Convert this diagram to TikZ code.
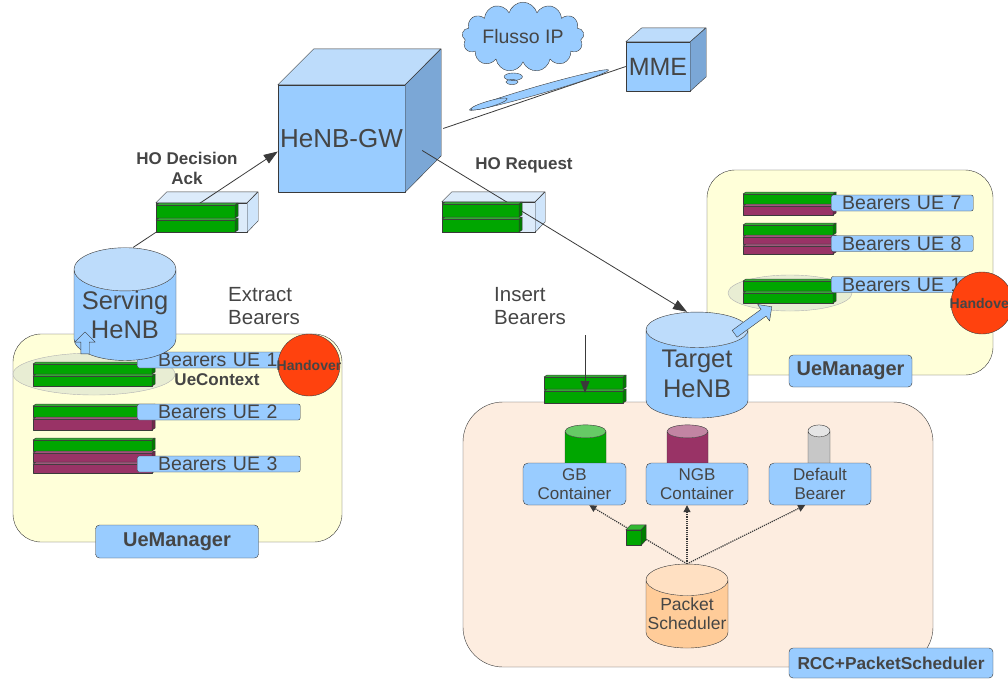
\documentclass[tikz,border=0pt]{standalone}
\usepackage{fontspec}
\setmainfont{Liberation Sans}
\usetikzlibrary{shapes.geometric, shapes.arrows, shapes.callouts, arrows.meta}

\definecolor{nodeblue}{HTML}{99CCFF}
\definecolor{topblue}{HTML}{BDDCFB}
\definecolor{sideblue}{HTML}{7BA7D6}
\definecolor{msgblue}{HTML}{DCEBFA}
\definecolor{gbgreen}{HTML}{00A600}
\definecolor{ngbpurple}{HTML}{993366}
\definecolor{mgryellow}{HTML}{FFFFD9}
\definecolor{rccpeach}{HTML}{FDEDE0}
\definecolor{hored}{HTML}{FF420E}
\definecolor{ctxgreen}{HTML}{E4EAD3}
\definecolor{psorange}{HTML}{FFCC99}
\definecolor{txtgray}{HTML}{454545}
\definecolor{linegray}{HTML}{3A3A3A}

\newcommand\fsz[2]{\fontsize{#1}{#2}\selectfont}
% one bearer bar: left x, right x, top y, height, colour
\newcommand\bearer[5]{%
  \draw[barline, fill=#5] (#1,#3+2) rectangle (#2,#3+#4);
  \draw[barline, fill=#5!75!black] (#2,#3+2) -- (#2+3,#3) -- (#2+3,#3+#4-2) -- (#2,#3+#4) -- cycle;
  \draw[barline, fill=#5!80!white] (#1,#3+2) -- (#1+3,#3) -- (#2+3,#3) -- (#2,#3+2) -- cycle;}

\tikzset{
  barline/.style={draw=linegray, line width=0.5pt},
  box/.style={draw=linegray, fill=nodeblue, text=txtgray, inner sep=0pt},
  cyl/.style={cylinder, shape border rotate=90, draw=linegray, aspect=0.5,
    cylinder uses custom fill, cylinder body fill=nodeblue, cylinder end fill=topblue,
    text=txtgray, inner sep=0pt, align=center},
  manager/.style={draw=linegray, fill=mgryellow, rounded corners=28pt},
  tag/.style={box, rounded corners=4pt, font=\bfseries\fsz{20}{22}},
  uetag/.style={box, rounded corners=2pt, anchor=west, minimum height=16pt,
    text width=#1, align=left, font=\fsz{19.5}{20}},
  context/.style={ellipse, draw=black!30, fill=ctxgreen, fill opacity=0.85},
  handover/.style={circle, draw=linegray, fill=hored, minimum size=62pt,
    label={[text=txtgray, font=\bfseries\fsz{14}{15}]center:Handover}},
  msg/.style={-{Triangle[length=14pt,width=10pt]}, draw=linegray, line width=0.8pt},
  sched/.style={densely dotted, line width=1.2pt, draw=linegray, -{Triangle[length=7pt,width=7pt]}},
  hollow/.style={single arrow, draw=linegray, fill=nodeblue, inner sep=4pt,
    single arrow head extend=6pt, minimum height=22pt},
  note/.style={text=txtgray, align=left, anchor=west, inner xsep=0pt, font=\fsz{20.5}{23}},
  msgtitle/.style={text=txtgray, align=center, font=\bfseries\fsz{17}{20}},
  container/.style={box, rounded corners=5pt, minimum width=102pt, minimum height=42pt,
    align=center, font=\fsz{17}{19}},
}

\begin{document}
\begin{tikzpicture}[x=1pt, y=-1pt, line join=round]
\useasboundingbox (0,0) rectangle (1008,680);
\clip (0,0) rectangle (1008,680);

% core network
\node[cloud callout, draw=linegray, fill=nodeblue, text=txtgray, cloud puffs=13, aspect=2.3,
  inner sep=0pt, minimum width=122pt, minimum height=54pt, font=\fsz{19.5}{22},
  callout absolute pointer={(512,82)}] (ipflow) at (523,37) {Flusso IP};

\node[box, minimum width=127pt, minimum height=107pt, font=\fsz{26}{30}] (gw) at (341.5,138.5) {HeNB-GW};
\draw[box, fill=topblue] (gw.north west) -- ++(36,-36) -- ++(127,0) -- (gw.north east) -- cycle;
\draw[box, fill=sideblue] (gw.north east) -- ++(36,-36) -- ++(0,107) -- (gw.south east) -- cycle;

\node[box, minimum width=64pt, minimum height=49pt, font=\fsz{25}{28}] (mme) at (658,66.5) {MME};
\draw[box, fill=topblue] (mme.north west) -- ++(16,-14) -- ++(64,0) -- (mme.north east) -- cycle;
\draw[box, fill=sideblue] (mme.north east) -- ++(16,-14) -- ++(0,49) -- (mme.south east) -- cycle;

\draw[linegray, line width=0.8pt] ([shift={(38pt,10pt)}]gw.east) -- (mme.west);
\node[ellipse, draw=linegray, fill=nodeblue, minimum width=145pt, minimum height=8pt,
  inner sep=0pt, rotate=16] (tube) at (539,90) {};
\node[ellipse, draw=linegray, fill=nodeblue, minimum width=38pt, minimum height=6pt,
  inner sep=0pt, rotate=16] (tubeend) at (489,104) {};

% serving side
\node[manager, minimum width=329pt, minimum height=208pt] (mgrleft) at (177.5,438) {};
\node[context, minimum width=162pt, minimum height=42pt] (ctxleft) at (94,374) {};
\bearer{33}{152}{362}{12}{gbgreen}
\bearer{33}{152}{374}{12}{gbgreen}
\bearer{33}{152}{404}{13}{gbgreen}
\bearer{33}{152}{417}{13}{ngbpurple}
\bearer{33}{152}{438}{13}{gbgreen}
\bearer{33}{152}{451}{11}{ngbpurple}
\bearer{33}{152}{462}{11}{ngbpurple}
\node[uetag=163pt] (ue1) at (137,360) {\hspace*{21pt}Bearers UE 1};
\node[uetag=163pt] (ue2) at (137,412) {\hspace*{21pt}Bearers UE 2};
\node[uetag=163pt] (ue3) at (137,464) {\hspace*{21pt}Bearers UE 3};
\node[handover] (holeft) at (309,365) {};
\node[font=\bfseries\fsz{17}{18}, text=txtgray] (ctxtxt) at (217,380) {UeContext};
\node[tag, minimum width=163pt, minimum height=33pt] (mgrlefttag) at (177,541.5) {UeManager};

\node[cyl, minimum width=102pt, minimum height=106pt, font=\fsz{25.5}{29}] (serving) at (125,315) {Serving\\HeNB};
\node[hollow, rotate=90] (extract) at (85,345) {};
\node[note] (extracttxt) at (228,306) {Extract\\Bearers};

\node[box, fill=msgblue, minimum width=91pt, minimum height=29pt] (ack) at (201.5,217.5) {};
\draw[box, fill=msgblue] (ack.north west) -- ++(11,-11) -- ++(91,0) -- (ack.north east) -- cycle;
\draw[box, fill=msgblue!80!nodeblue] (ack.north east) -- ++(11,-11) -- ++(0,29) -- (ack.south east) -- cycle;
\draw[msg] ([xshift=8pt]serving.north) -- ([yshift=-13pt]gw.west);
\bearer{156}{235}{203}{15}{gbgreen}
\bearer{156}{235}{218}{14}{gbgreen}
\node[msgtitle] (acktxt) at (187,168) {HO Decision\\Ack};

% target side
\node[manager, minimum width=286pt, minimum height=205pt] (mgrright) at (850,272.5) {};
\node[context, minimum width=124pt, minimum height=36pt] (ctxright) at (790,293) {};
\bearer{743}{833}{192}{12}{gbgreen}
\bearer{743}{833}{204}{11}{ngbpurple}
\bearer{743}{833}{223}{12}{gbgreen}
\bearer{743}{833}{235}{9}{ngbpurple}
\bearer{743}{833}{244}{10}{ngbpurple}
\bearer{743}{833}{279}{12}{gbgreen}
\bearer{743}{833}{291}{12}{gbgreen}
\node[uetag=142pt] (ue7) at (831,203) {\hspace*{11pt}Bearers UE 7};
\node[uetag=142pt] (ue8) at (831,243.5) {\hspace*{11pt}Bearers UE 8};
\node[uetag=142pt] (ue1new) at (831,284.5) {\hspace*{11pt}Bearers UE 1};
\node[handover] (horight) at (982,303) {};
\node[tag, minimum width=123pt, minimum height=32pt] (mgrrighttag) at (850.5,371) {UeManager};

\node[draw=linegray, fill=rccpeach, rounded corners=40pt, minimum width=470pt, minimum height=265pt] (rcc) at (698,534.5) {};
\node[cyl, inner sep=10pt, aspect=0.65, cylinder body fill=gbgreen, cylinder end fill=gbgreen!60!white, minimum width=41pt, minimum height=48pt] (gb) at (585.5,455) {};
\node[cyl, inner sep=10pt, aspect=0.65, cylinder body fill=ngbpurple, cylinder end fill=ngbpurple!60!white, minimum width=41pt, minimum height=48pt] (ngb) at (687.5,455) {};
\node[cyl, inner sep=10pt, aspect=0.6, cylinder body fill=black!22, cylinder end fill=black!10, minimum width=22pt, minimum height=48pt] (dflt) at (819,455) {};
\node[container, minimum width=103pt] (gbbox) at (574.5,484) {GB\\Container};
\node[container] (ngbbox) at (697,484) {NGB\\Container};
\node[container] (dfltbox) at (820,484) {Default\\Bearer};
\node[cyl, aspect=0.4, cylinder body fill=psorange, cylinder end fill=psorange!60!white, minimum width=82pt, minimum height=84pt, font=\fsz{17.5}{19}] (ps) at (687,614) {Packet\\Scheduler};
\draw[sched] (ps.north) -- (gbbox.305);
\draw[sched] (ps.north) -- (ps.north |- ngbbox.south);
\draw[sched] (ps.north) -- (dfltbox.235);
\node[draw=linegray, fill=gbgreen, minimum size=15pt, inner sep=0pt] (pkt) at (633.5,537.5) {};
\draw[barline, fill=gbgreen!80!white] (pkt.north west) -- ++(5,-5) -- ++(15,0) -- (pkt.north east) -- cycle;
\draw[barline, fill=gbgreen!75!black] (pkt.north east) -- ++(5,-5) -- ++(0,15) -- (pkt.south east) -- cycle;
\node[tag, minimum width=204pt, minimum height=30pt, font=\bfseries\fsz{17.3}{19}] (rcctag) at (891,663) {RCC+PacketScheduler};

\node[note] (inserttxt) at (494,306) {Insert\\Bearers};
\bearer{544}{623}{375}{14}{gbgreen}
\bearer{544}{623}{389}{14}{gbgreen}
\coordinate (insfrom) at (585,335);
\coordinate (insto) at (585,393);
\draw[-{Triangle[length=12pt,width=9pt]}, linegray, line width=0.8pt] (insfrom) -- (insto);

\node[cyl, minimum width=102pt, minimum height=106pt, font=\fsz{25.5}{30}] (target) at (697,374) {Target\\HeNB};
\node[hollow, rotate=36, minimum height=46pt] (insertctx) at (751.5,321.5) {};

\node[box, fill=msgblue, minimum width=93pt, minimum height=30pt] (req) at (488.5,217) {};
\draw[box, fill=msgblue] (req.north west) -- ++(10,-10) -- ++(93,0) -- (req.north east) -- cycle;
\draw[box, fill=msgblue!80!nodeblue] (req.north east) -- ++(10,-10) -- ++(0,30) -- (req.south east) -- cycle;
\draw[msg] ([shift={(17pt,-12pt)}]gw.east) -- ([xshift=-10pt]target.north);
\bearer{442}{519}{202}{15}{gbgreen}
\bearer{442}{519}{217}{15}{gbgreen}
\node[msgtitle] (reqtxt) at (524,165) {HO Request};
\end{tikzpicture}
\end{document}
